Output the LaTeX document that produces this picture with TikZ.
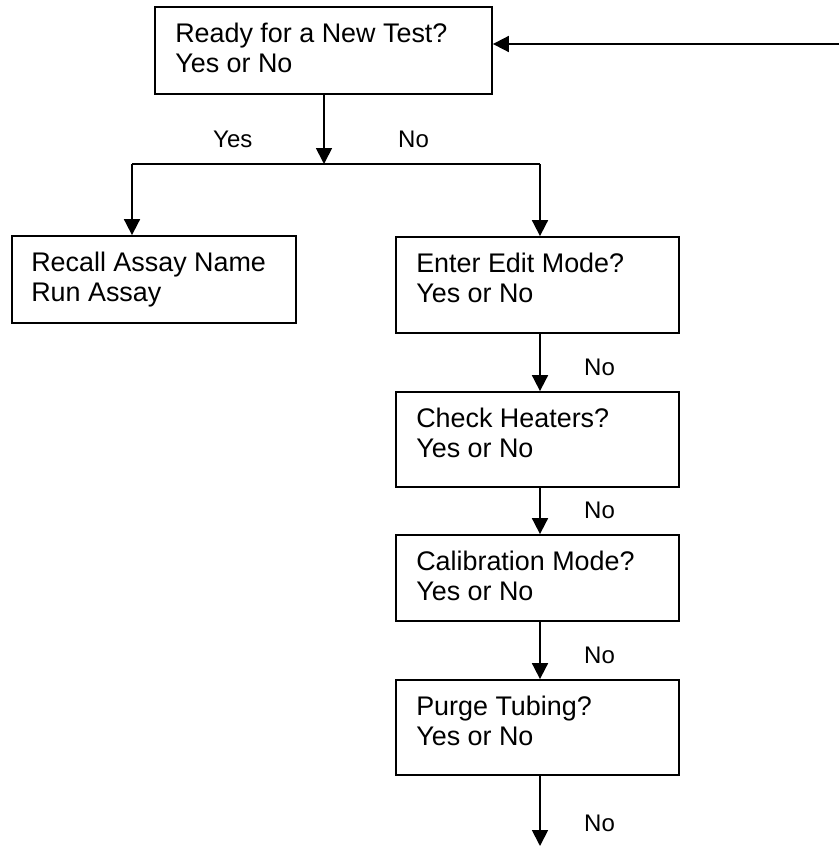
\documentclass[tikz,border=0pt]{standalone}
\usepackage{fontspec}
\setmainfont{Liberation Sans}
\usetikzlibrary{arrows.meta,calc}
\begin{document}
\begin{tikzpicture}[x=1pt,y=-1pt,
  box/.style={draw, line width=1.8pt, inner sep=0pt},
  txt/.style={anchor=north west, inner sep=0pt, align=left, font=\fontsize{26.9}{30}\selectfont},
  lbl/.style={anchor=base west, inner sep=0pt, font=\fontsize{24}{27}\selectfont},
  arr/.style={line width=1.8pt, -{Triangle[length=16pt,width=16pt]}},
  ln/.style={line width=1.8pt}]
\useasboundingbox (0,0) rectangle (839,846);
% boxes
\node[box, minimum width=337pt, minimum height=87pt] (ready) at (323.5,50.5) {};
\node[box, minimum width=284pt, minimum height=87pt] (recall) at (154,279.5) {};
\node[box, minimum width=283pt, minimum height=96pt] (edit) at (537.5,285) {};
\node[box, minimum width=283pt, minimum height=95pt] (heat) at (537.5,439.5) {};
\node[box, minimum width=283pt, minimum height=86pt] (calib) at (537.5,578) {};
\node[box, minimum width=283pt, minimum height=95pt] (purge) at (537.5,727.5) {};
% texts
\node[txt] (tready) at ($(ready.north west)+(21,16.5)$) {Ready for a New Test?\\Yes or No};
\node[txt] (trecall) at ($(recall.north west)+(20,16.5)$) {Recall Assay Name\\Run Assay};
\node[txt] (tedit) at ($(edit.north west)+(21,16.5)$) {Enter Edit Mode?\\Yes or No};
\node[txt] (theat) at ($(heat.north west)+(21,16.5)$) {Check Heaters?\\Yes or No};
\node[txt] (tcalib) at ($(calib.north west)+(21,16.5)$) {Calibration Mode?\\Yes or No};
\node[txt] (tpurge) at ($(purge.north west)+(21,16.5)$) {Purge Tubing?\\Yes or No};
% coordinates
\coordinate (junc) at (324,164);
\coordinate (jl) at (132,164);
\coordinate (jr) at (540,164);
\coordinate (fb) at (839,44);
\coordinate (endp) at (540,846);
% connectors
\draw[arr] (fb) -- (fb -| ready.east);
\draw[arr] (junc |- ready.south) -- (junc);
\draw[ln] (jl) -- (jr);
\draw[arr] (jl) -- (jl |- recall.north);
\draw[arr] (jr) -- (jr |- edit.north);
\draw[arr] (jr |- edit.south) -- (jr |- heat.north);
\draw[arr] (jr |- heat.south) -- (jr |- calib.north);
\draw[arr] (jr |- calib.south) -- (jr |- purge.north);
\draw[arr] (jr |- purge.south) -- (endp);
% labels
\node[lbl] (lyes) at (213,147) {Yes};
\node[lbl] (lno) at (398,147) {No};
\node[lbl] (lno1) at (584,375) {No};
\node[lbl] (lno2) at (584,518) {No};
\node[lbl] (lno3) at (584,663) {No};
\node[lbl] (lno4) at (584,831) {No};
\end{tikzpicture}
\end{document}
